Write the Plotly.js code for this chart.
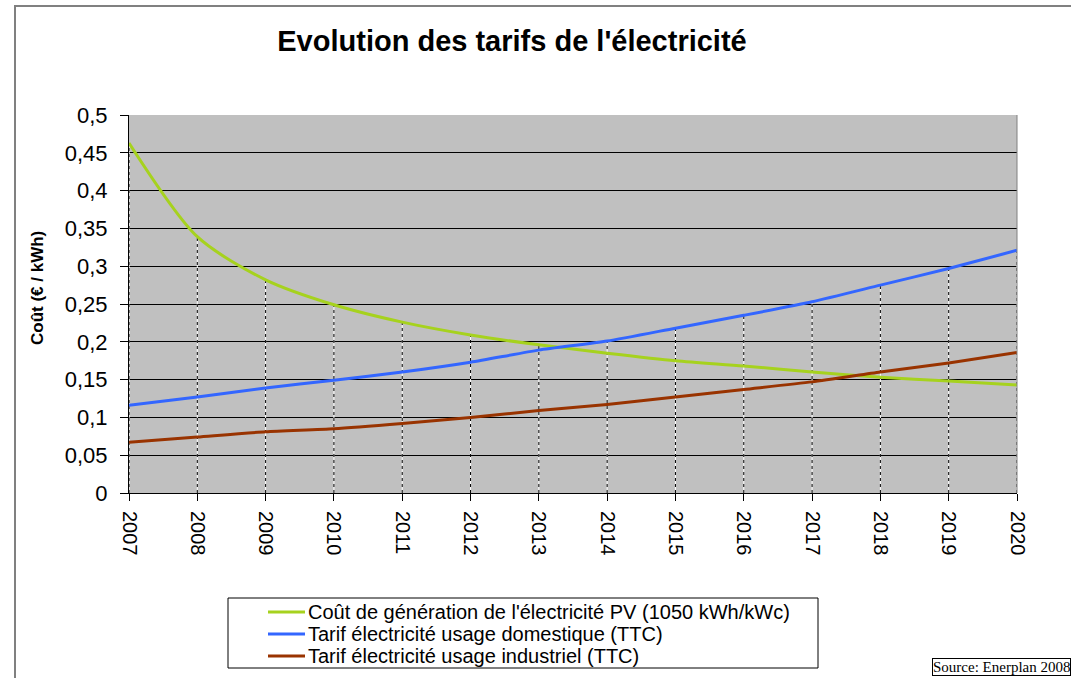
<!DOCTYPE html>
<html>
<head>
<meta charset="utf-8">
<script src="https://cdn.plot.ly/plotly-3.0.1.min.js"></script>
<style>
  html, body { margin: 0; padding: 0; background: #ffffff; }
  #chart { width: 1071px; height: 678px; }
</style>
</head>
<body>
<div id="chart"></div>
<script>
// ---- Data ----
const years = [2007, 2008, 2009, 2010, 2011, 2012, 2013, 2014, 2015, 2016, 2017, 2018, 2019, 2020];
const pvCost   = [0.463, 0.339, 0.282, 0.249, 0.226, 0.209, 0.196, 0.185, 0.175, 0.168, 0.160, 0.153, 0.148, 0.143];
const domestic = [0.116, 0.127, 0.139, 0.149, 0.160, 0.173, 0.189, 0.201, 0.218, 0.235, 0.253, 0.275, 0.297, 0.321];
const industry = [0.067, 0.074, 0.081, 0.085, 0.092, 0.100, 0.109, 0.117, 0.127, 0.137, 0.147, 0.160, 0.172, 0.186];
const seriesNames = [
  "Coût de génération de l'électricité PV (1050 kWh/kWc)",
  "Tarif électricité usage domestique (TTC)",
  "Tarif électricité usage industriel (TTC)"
];
const seriesColors = ['#A6D21E', '#3366FF', '#993300'];
const yTicks = [0, 0.05, 0.1, 0.15, 0.2, 0.25, 0.3, 0.35, 0.4, 0.45, 0.5];

// ---- Layout geometry (pixels) ----
const W = 1071, H = 678;
const M = { l: 129, r: 54, t: 115, b: 185 };
const PW = W - M.l - M.r, PH = H - M.t - M.b;
const px = v => (v - M.l) / PW;          // container px -> paper x
const py = v => (H - M.b - v) / PH;      // container px -> paper y

// Drop lines from highest series value to the axis, per year
const dropX = [], dropY = [];
years.forEach((yr, i) => {
  const top = Math.max(pvCost[i], domestic[i], industry[i]);
  dropX.push(yr, yr, null);
  dropY.push(0, top, null);
});

const FONT = '"Liberation Sans", Arial, sans-serif';
const seriesData = [pvCost, domestic, industry];

const traces = [
  { x: dropX, y: dropY, mode: 'lines', line: { color: '#ffffff', width: 1 }, showlegend: false, hoverinfo: 'skip' },
  { x: dropX, y: dropY, mode: 'lines', line: { color: '#000000', width: 1, dash: '3px,3px' }, showlegend: false, hoverinfo: 'skip' }
];
seriesData.forEach((vals, k) => {
  traces.push({ x: years, y: vals, name: seriesNames[k], mode: 'lines', showlegend: false,
    line: { color: seriesColors[k], width: 3, shape: 'spline', smoothing: k === 0 ? 0.8 : 0.6 } });
});

// Manual legend (box, symbols, labels)
const legRows = [612, 634, 656];
const shapes = [
  { type: 'rect', xref: 'paper', yref: 'paper', x0: px(15), x1: px(1090), y0: py(6), y1: py(700),
    line: { color: '#808080', width: 2 }, fillcolor: 'rgba(0,0,0,0)', layer: 'below' },
  { type: 'rect', xref: 'paper', yref: 'paper', x0: px(228), x1: px(818), y0: py(598), y1: py(668),
    line: { color: '#000000', width: 1 }, fillcolor: 'rgba(0,0,0,0)' },
  { type: 'line', xref: 'paper', yref: 'paper', x0: 1, x1: 1, y0: 0, y1: 1, line: { color: '#808080', width: 1 } }
];
const annotations = [
  { text: '<b>Coût (€ / kWh)</b>', textangle: -90,
    xref: 'paper', yref: 'paper', x: px(37), y: py(288), xanchor: 'center', yanchor: 'middle',
    showarrow: false, font: { family: FONT, size: 17, color: '#000000' } },
  { text: 'Source: Enerplan 2008',
    xref: 'paper', yref: 'paper', x: px(1071), y: py(667), xanchor: 'right', yanchor: 'middle',
    showarrow: false, font: { family: '"Liberation Serif", "DejaVu Serif", serif', size: 15, color: '#000000' },
    bordercolor: '#000000', borderwidth: 1, borderpad: 0, bgcolor: '#ffffff' }
];
seriesNames.forEach((name, k) => {
  shapes.push({ type: 'line', xref: 'paper', yref: 'paper', x0: px(268), x1: px(305), y0: py(legRows[k]), y1: py(legRows[k]),
    line: { color: seriesColors[k], width: 3 } });
  annotations.push({ text: name, xref: 'paper', yref: 'paper', x: px(306), y: py(legRows[k]),
    xanchor: 'left', yanchor: 'middle', showarrow: false,
    font: { family: FONT, size: 20, color: '#000000' } });
});

const layout = {
  width: W, height: H,
  margin: M,
  paper_bgcolor: '#ffffff',
  plot_bgcolor: '#C0C0C0',
  separators: ', ',
  showlegend: false,
  font: { family: FONT, color: '#000000' },
  title: {
    text: "<b>Evolution des tarifs de l'électricité</b>",
    font: { family: FONT, size: 29, color: '#000000' },
    xref: 'container', x: 512 / W, xanchor: 'center',
    yref: 'container', y: 1 - 41 / H, yanchor: 'middle'
  },
  xaxis: {
    range: [2007, 2020],
    tickvals: years,
    ticktext: years.map(String),
    tickangle: 90,
    tickfont: { family: FONT, size: 20, color: '#000000' },
    ticks: 'outside', ticklen: 7, tickcolor: '#000000', tickwidth: 1,
    ticklabelstandoff: 6,
    showgrid: false, zeroline: false,
    showline: true, linecolor: '#000000', linewidth: 1,
    fixedrange: true
  },
  yaxis: {
    range: [0, 0.5],
    tickvals: yTicks,
    tickfont: { family: FONT, size: 22, color: '#000000' },
    ticks: 'outside', ticklen: 8, tickcolor: '#000000', tickwidth: 1,
    ticklabelstandoff: 8,
    showgrid: true, gridcolor: '#000000', gridwidth: 1,
    zeroline: false,
    showline: true, linecolor: '#000000', linewidth: 1,
    fixedrange: true
  },
  shapes: shapes,
  annotations: annotations
};

Plotly.newPlot('chart', traces, layout, { displayModeBar: false, staticPlot: true });
</script>
</body>
</html>
